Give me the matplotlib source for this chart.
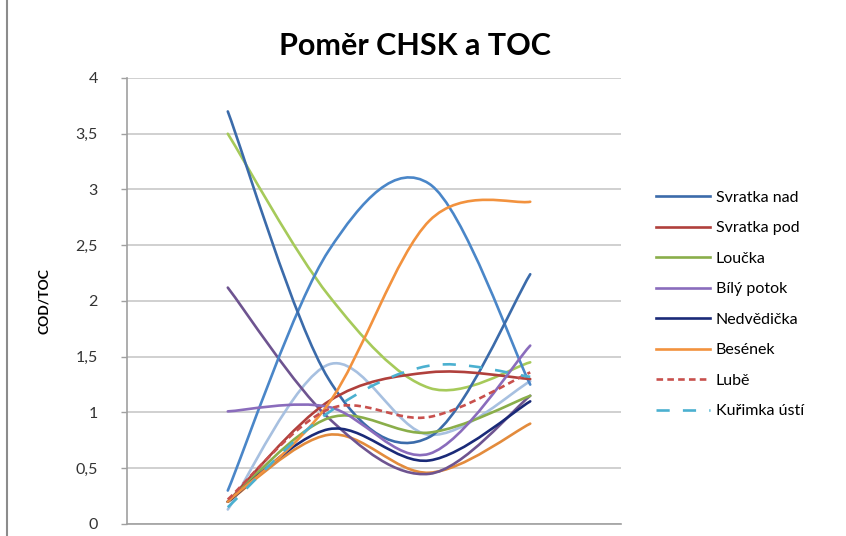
import numpy as np
import matplotlib.pyplot as plt
from matplotlib.path import Path
from matplotlib.patches import PathPatch
from matplotlib.lines import Line2D

plt.rcParams['font.family'] = ['Lato', 'DejaVu Sans']

# odběrová místa (osa x: 1..4)
x = [1, 2, 3, 4]

svratka_nad = [3.70, 1.30, 0.78, 2.24]
svratka_pod = [0.20, 1.10, 1.36, 1.30]
loucka = [0.20, 0.95, 0.82, 1.15]
bily_potok = [1.01, 1.05, 0.63, 1.60]
nedvedicka = [0.20, 0.85, 0.57, 1.10]
besenek = [0.20, 1.08, 2.72, 2.89]
lube = [0.22, 1.03, 0.96, 1.36]
kurimka = [0.15, 1.00, 1.42, 1.32]

# další řady (bez položky v legendě)
rada_9 = [0.30, 2.45, 3.05, 1.25]
rada_10 = [3.50, 2.05, 1.22, 1.45]
rada_11 = [2.12, 0.95, 0.45, 1.15]
rada_12 = [0.13, 1.43, 0.80, 1.28]
rada_13 = [0.20, 0.80, 0.46, 0.90]

y_ticks = [0, 0.5, 1, 1.5, 2, 2.5, 3, 3.5, 4]
y_labels = ["0", "0,5", "1", "1,5", "2", "2,5", "3", "3,5", "4"]


def smooth_path(xs, ys):
    # vyhlazená čára jako v Excelu (Bezierovy křivky, Catmull-Rom)
    p = np.column_stack([xs, ys]).astype(float)
    n = len(p)
    verts = [p[0]]
    codes = [Path.MOVETO]
    for i in range(n - 1):
        p0 = p[max(i - 1, 0)]
        p1 = p[i]
        p2 = p[i + 1]
        p3 = p[min(i + 2, n - 1)]
        c1 = p1 + (p2 - p0) / 6
        c2 = p2 - (p3 - p1) / 6
        verts += [c1, c2, p2]
        codes += [Path.CURVE4] * 3
    return Path(verts, codes)


series = [
    # (data, barva, styl, popisek)
    (rada_12, "#a7c0e0", "-", None),
    (rada_13, "#e38b3c", "-", None),
    (rada_11, "#6e5490", "-", None),
    (rada_10, "#a6ca5a", "-", None),
    (rada_9, "#4a86c8", "-", None),
    (svratka_nad, "#3b6baa", "-", "Svratka nad"),
    (svratka_pod, "#b0403c", "-", "Svratka pod"),
    (loucka, "#8aae4a", "-", "Loučka"),
    (bily_potok, "#8a6cbc", "-", "Bílý potok"),
    (nedvedicka, "#1a2a78", "-", "Nedvědička"),
    (besenek, "#f2923e", "-", "Besének"),
    (lube, "#c8504d", (0, (2.5, 1.6)), "Lubě"),
    (kurimka, "#4bb0d0", (0, (5, 5)), "Kuřimka ústí"),
]

fig = plt.figure(figsize=(8.46, 5.36), dpi=100)
ax = fig.add_axes([0.1501, 0.0224, 0.5839, 0.8321])

handles = {}
for data, color, ls, label in series:
    patch = PathPatch(smooth_path(x, data), fill=False, edgecolor=color,
                      linewidth=1.9, linestyle=ls,
                      capstyle="round" if ls == "-" else "butt")
    ax.add_patch(patch)
    if label:
        handles[label] = Line2D([], [], color=color, linewidth=1.9, linestyle=ls)

ax.set_xlim(0, 4.9)
ax.set_ylim(0, 4)
ax.set_yticks(y_ticks)
ax.set_yticklabels(y_labels, fontsize=11.5, color="#333333")
ax.set_xticks([])
ax.tick_params(axis="y", length=4, width=1, color="#a0a0a0", pad=17)
ax.grid(axis="y", color="#c8c8c8", linewidth=1.2)
ax.set_axisbelow(True)
for side in ["top", "right"]:
    ax.spines[side].set_visible(False)
for side in ["left", "bottom"]:
    ax.spines[side].set_color("#a0a0a0")
    ax.spines[side].set_linewidth(1.2)

ax.set_ylabel("COD/TOC", fontsize=10, fontweight="bold", labelpad=18)
fig.text(0.49, 0.915, "Poměr CHSK a TOC", ha="center", va="center",
         fontsize=22, fontweight="bold")

order = ["Svratka nad", "Svratka pod", "Loučka", "Bílý potok",
         "Nedvědička", "Besének", "Lubě", "Kuřimka ústí"]
fig.legend([handles[k] for k in order], order, loc="upper left",
           bbox_to_anchor=(0.775, 0.644), frameon=False, fontsize=11.5,
           handlelength=3.4, handletextpad=0.35, labelspacing=1.02,
           borderpad=0, borderaxespad=0)

# okraj oblasti grafu
fig.add_artist(Line2D([0.0085, 0.0085], [0, 1], color="#8c8c8c", linewidth=1.5))

fig.savefig("out.png", dpi=100)
